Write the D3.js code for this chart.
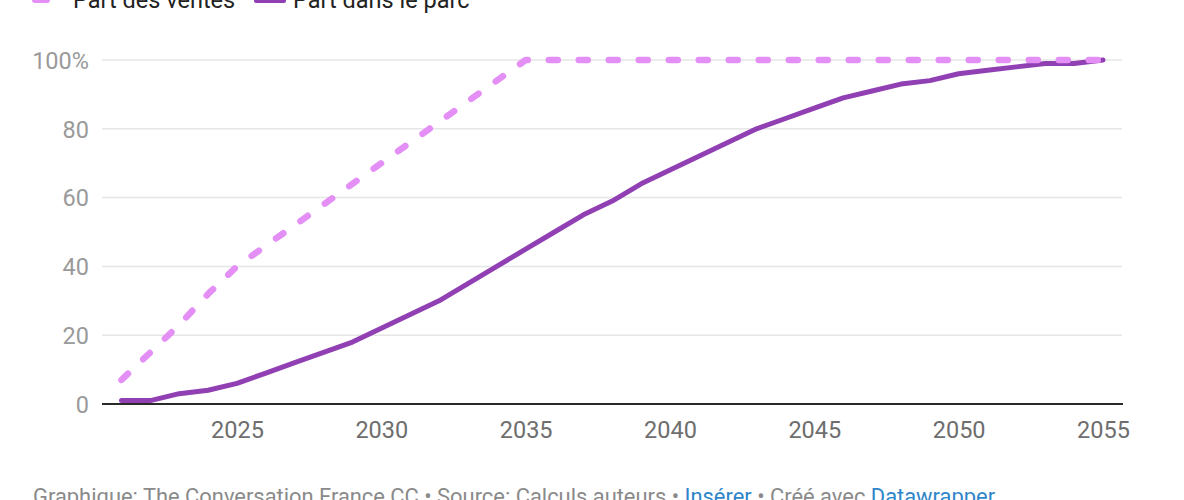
<!DOCTYPE html>
<html>
<head>
<meta charset="utf-8">
<script src="https://cdn.jsdelivr.net/npm/d3@7"></script>
<style>
  html, body { margin: 0; padding: 0; background: #fff; overflow: hidden; }
  svg { display: block; font-family: Roboto, "Noto Sans", sans-serif; }
</style>
</head>
<body>
<svg id="chart" width="1184" height="500"></svg>
<script>
const years = d3.range(2021, 2056);
const partVentes = [7, 15, 23, 32, 40, 46, 52, 58, 64, 70, 76, 82, 88, 94, 100,
  100, 100, 100, 100, 100, 100, 100, 100, 100, 100, 100, 100, 100, 100, 100,
  100, 100, 100, 100, 100];
const partParc = [1, 1, 3, 4, 6, 9, 12, 15, 18, 22, 26, 30, 35, 40, 45,
  50, 55, 59, 64, 68, 72, 76, 80, 83, 86, 89, 91, 93, 94, 96,
  97, 98, 99, 99, 100];
const xTicks = [2025, 2030, 2035, 2040, 2045, 2050, 2055];
const yTicks = [0, 20, 40, 60, 80, 100];
const seriesNames = ["Part des ventes", "Part dans le parc"];
const footerParts = [
  {t: "Graphique: The Conversation France CC • Source: Calculs auteurs • ", link: false},
  {t: "Insérer", link: true},
  {t: " • Créé avec ", link: false},
  {t: "Datawrapper", link: true}
];

const colVentes = "#e48ff5";
const colParc = "#9140b4";

const svg = d3.select("#chart");
const x = d3.scaleLinear().domain([2021, 2055]).range([121.5, 1103]);
const y = d3.scaleLinear().domain([0, 100]).range([404, 60]);

// y axis labels
const yAxis = d3.axisLeft(y).tickValues(yTicks).tickSize(0)
  .tickFormat(d => d === 100 ? "100%" : d);
const gy = svg.append("g").attr("transform", "translate(89,0)").call(yAxis);
gy.select(".domain").remove();
gy.selectAll("text").attr("x", 0).attr("dy", "0.35em")
  .style("font-size", "23.5px").style("fill", "#9a9a9a").style("text-anchor", "end")
  .style("font-family", "Roboto");

// gridlines
svg.append("g").selectAll("line").data(yTicks.filter(d => d !== 0)).join("line")
  .attr("x1", 102).attr("x2", 1122)
  .attr("y1", d => y(d)).attr("y2", d => y(d))
  .attr("stroke", "#e6e6e6").attr("stroke-width", 1.5);

// x axis
const xAxis = d3.axisBottom(x).tickValues(xTicks).tickSize(0).tickFormat(d3.format("d"));
const gx = svg.append("g").attr("transform", `translate(0,${y(0)})`).call(xAxis);
gx.select(".domain").remove();
gx.selectAll("text").attr("y", 34).attr("dy", 0)
  .style("font-size", "23.5px").style("fill", "#6e6e6e").style("font-family", "Roboto");

svg.append("line").attr("x1", 102).attr("x2", 1123)
  .attr("y1", y(0)).attr("y2", y(0))
  .attr("stroke", "#2a2a2a").attr("stroke-width", 2);

// lines
const line = d3.line().x((d, i) => x(years[i])).y(d => y(d));
svg.append("path").datum(partParc)
  .attr("d", line).attr("fill", "none")
  .attr("stroke", colParc).attr("stroke-width", 5)
  .attr("stroke-linejoin", "round").attr("stroke-linecap", "round");
svg.append("path").datum(partVentes)
  .attr("d", line).attr("fill", "none")
  .attr("stroke", colVentes).attr("stroke-width", 6.5)
  .attr("stroke-dasharray", "9 21")
  .attr("stroke-linejoin", "round").attr("stroke-linecap", "round");

// legend
const leg = svg.append("g");
leg.append("rect").attr("x", 32).attr("y", -6).attr("width", 18).attr("height", 9)
  .attr("rx", 3).attr("fill", colVentes);
leg.append("text").attr("x", 73).attr("y", 8).text(seriesNames[0])
  .style("font-size", "23.5px").style("fill", "#222");
leg.append("rect").attr("x", 254).attr("y", -6).attr("width", 32).attr("height", 9)
  .attr("rx", 2).attr("fill", colParc);
leg.append("text").attr("x", 293).attr("y", 8).text(seriesNames[1])
  .style("font-size", "23.5px").style("fill", "#222");

// footer
const ft = svg.append("text").attr("x", 33).attr("y", 503.5)
  .style("font-size", "21.9px").style("fill", "#8a8a8a");
ft.selectAll("tspan").data(footerParts).join("tspan")
  .text(d => d.t).style("fill", d => d.link ? "#2f86c9" : "#8a8a8a");
</script>
</body>
</html>
